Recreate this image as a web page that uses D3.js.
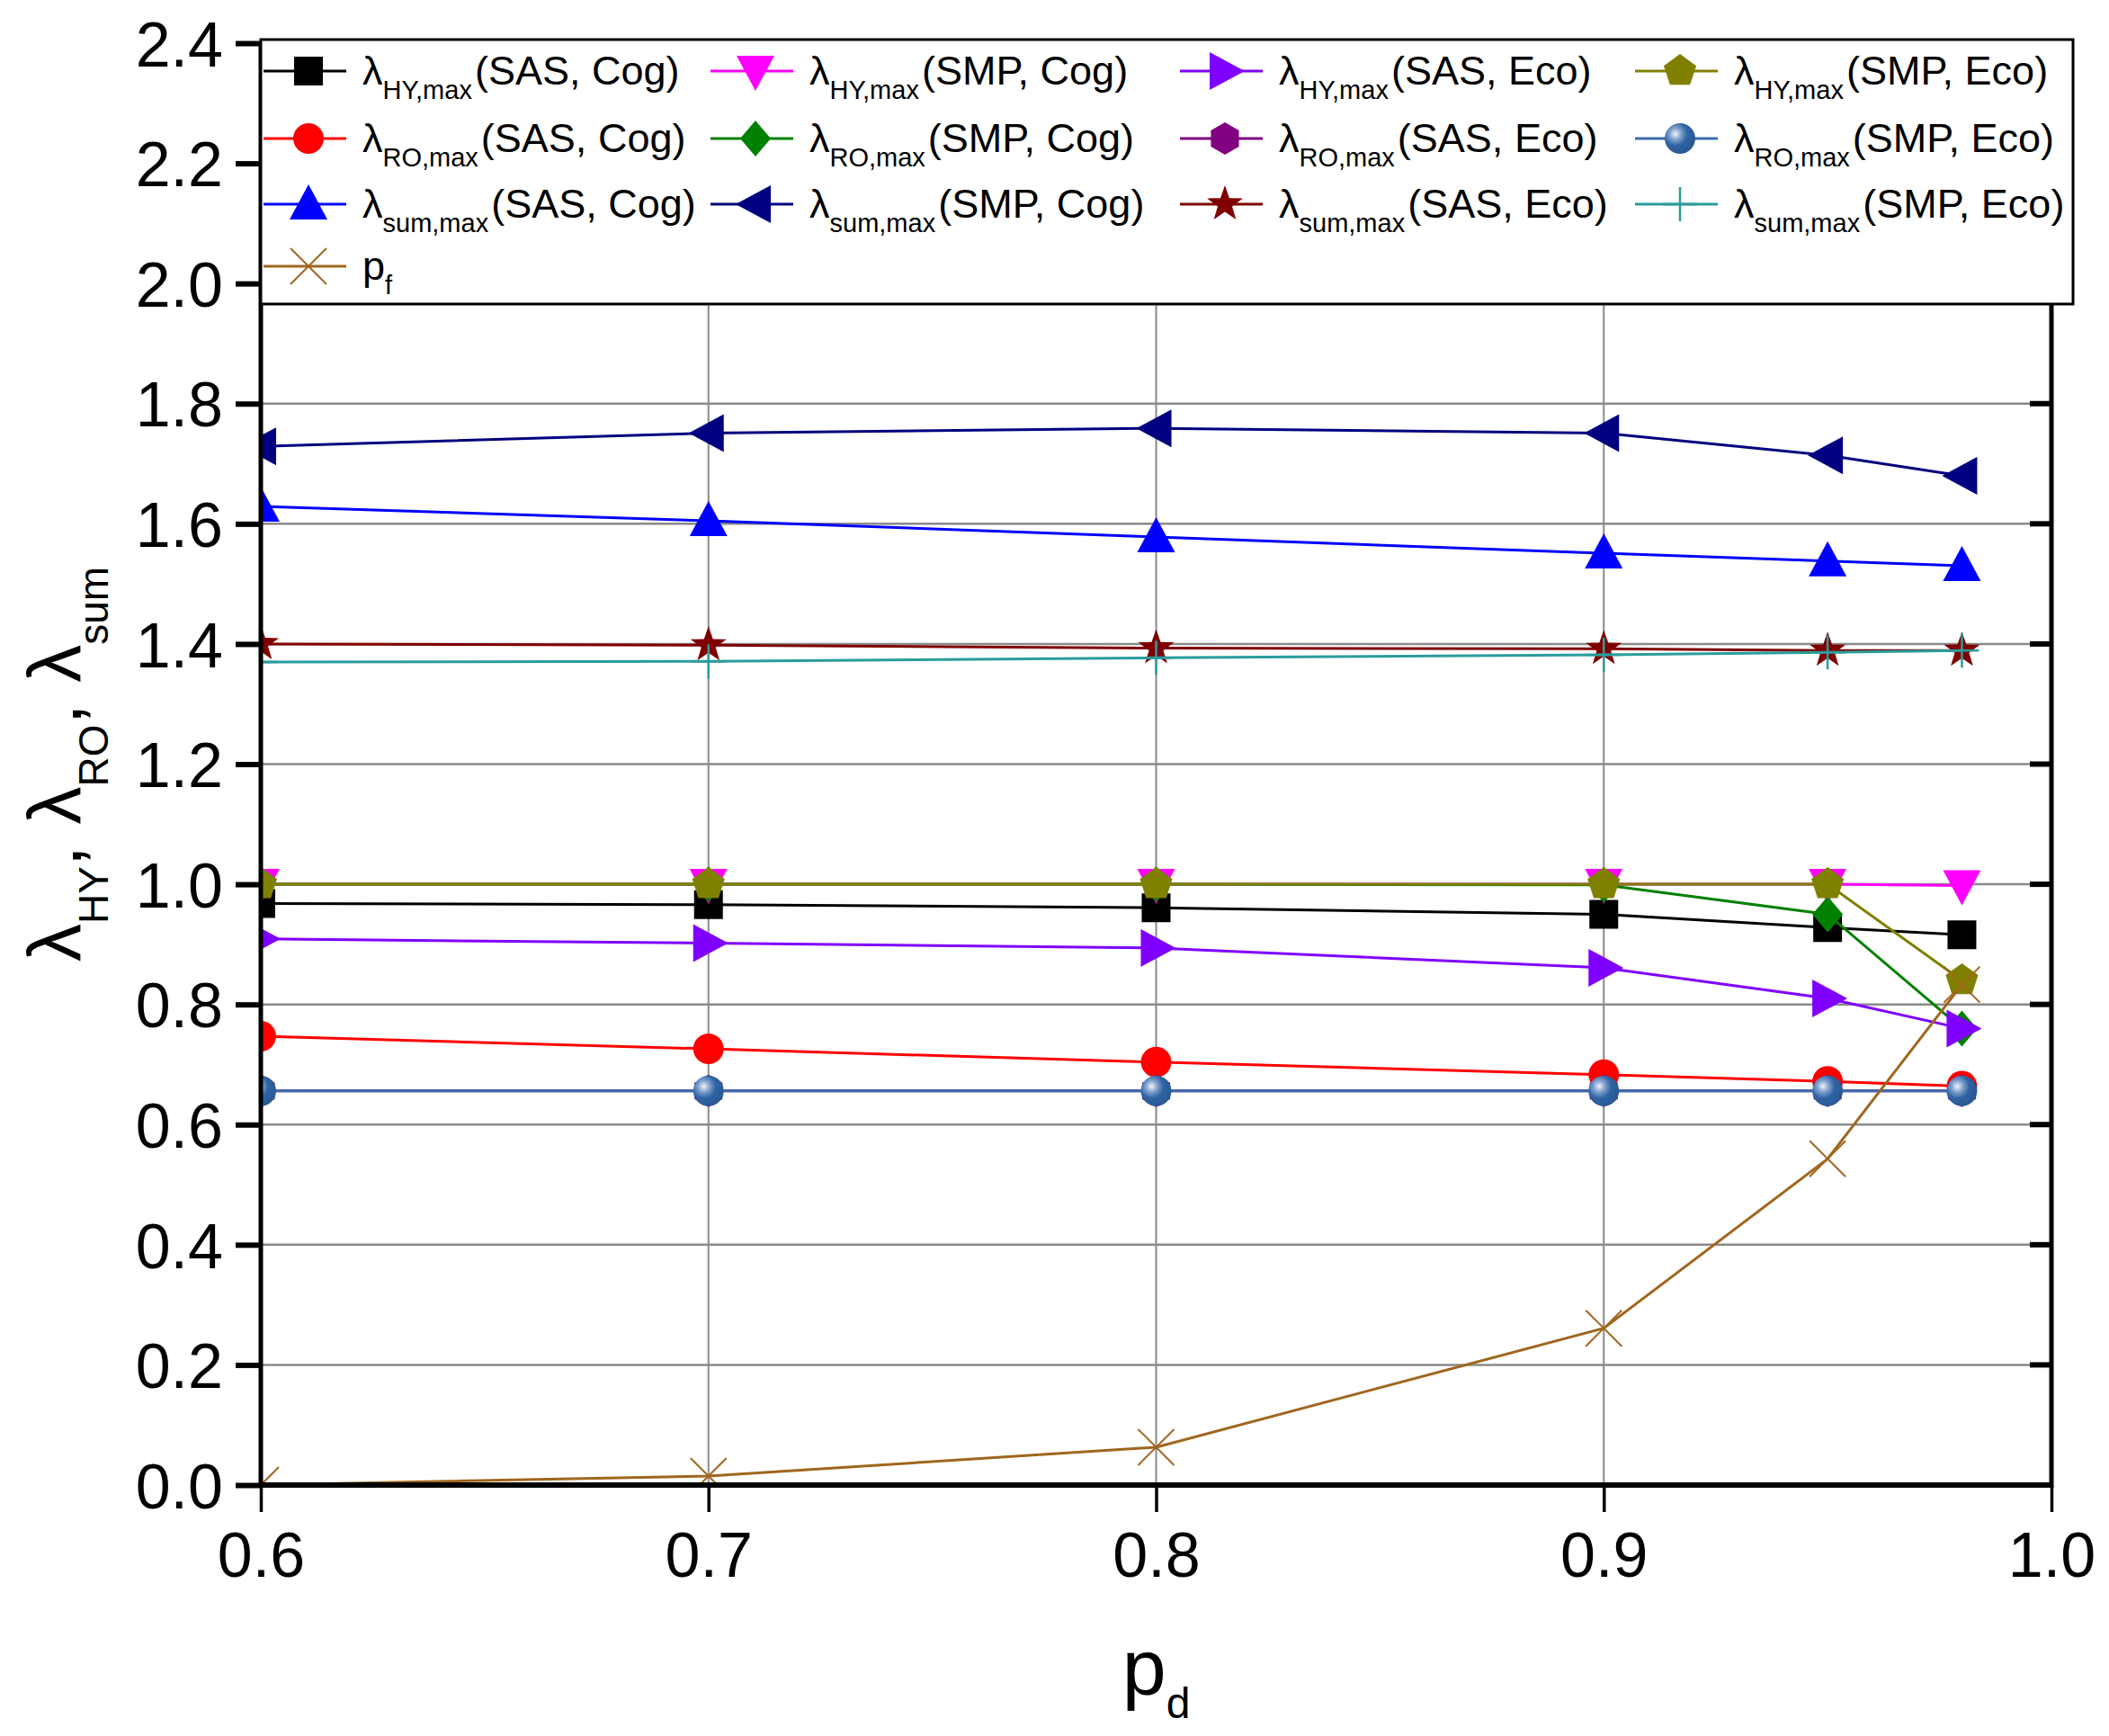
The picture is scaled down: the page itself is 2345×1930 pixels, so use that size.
<!DOCTYPE html>
<html>
<head>
<meta charset="utf-8">
<script src="https://cdn.jsdelivr.net/npm/d3@7"></script>
<style>
  html, body { margin: 0; padding: 0; background: #fff; }
  text { font-family: "Liberation Sans", Arial, sans-serif; fill: #000; }
</style>
</head>
<body>
<svg id="chart" width="2345" height="1930"></svg>
<script>
// x values (p_d)
var pd = [0.6, 0.7, 0.8, 0.9, 0.95, 0.98];

// series values
var hySasCog  = [0.968, 0.966, 0.961, 0.950, 0.928, 0.916];
var hySmpCog  = [1.000, 1.000, 1.000, 1.000, 1.000, 0.998];
var hySasEco  = [0.909, 0.902, 0.894, 0.861, 0.810, 0.760];
var hySmpEco  = [1.000, 1.000, 1.000, 1.000, 1.000, 0.840];
var roSasCog  = [0.747, 0.726, 0.704, 0.683, 0.672, 0.664];
var roSmpCog  = [1.000, 1.000, 1.000, 0.999, 0.950, 0.760];
var roSasEco  = [0.656, 0.656, 0.656, 0.656, 0.656, 0.656];
var roSmpEco  = [0.656, 0.656, 0.656, 0.656, 0.656, 0.656];
var sumSasCog = [1.629, 1.605, 1.578, 1.551, 1.538, 1.530];
var sumSmpCog = [1.729, 1.751, 1.759, 1.751, 1.714, 1.680];
var sumSasEco = [1.400, 1.398, 1.393, 1.392, 1.389, 1.389];
var sumSmpEco = [1.370, 1.371, 1.377, 1.382, 1.386, 1.389];
var pf        = [0.000, 0.015, 0.063, 0.261, 0.543, 0.833];

var xTicks = [0.6, 0.7, 0.8, 0.9, 1.0];
var yTicks = [0, 0.2, 0.4, 0.6, 0.8, 1.0, 1.2, 1.4, 1.6, 1.8, 2.0, 2.2, 2.4];

// legend entries in row order
var series = [
    {sub: "HY,max",  tag: "(SAS, Cog)", color: "#000000", marker: "square",   values: hySasCog},
    {sub: "HY,max",  tag: "(SMP, Cog)", color: "#ff00ff", marker: "down",     values: hySmpCog},
    {sub: "HY,max",  tag: "(SAS, Eco)", color: "#8000ff", marker: "right",    values: hySasEco},
    {sub: "HY,max",  tag: "(SMP, Eco)", color: "#808000", marker: "pentagon", values: hySmpEco},
    {sub: "RO,max",  tag: "(SAS, Cog)", color: "#ff0000", marker: "circle",   values: roSasCog},
    {sub: "RO,max",  tag: "(SMP, Cog)", color: "#008000", marker: "diamond",  values: roSmpCog},
    {sub: "RO,max",  tag: "(SAS, Eco)", color: "#800080", marker: "hexagon",  values: roSasEco},
    {sub: "RO,max",  tag: "(SMP, Eco)", color: "#3a6cad", marker: "sphere",   values: roSmpEco},
    {sub: "sum,max", tag: "(SAS, Cog)", color: "#0000ff", marker: "up",       values: sumSasCog},
    {sub: "sum,max", tag: "(SMP, Cog)", color: "#000080", marker: "left",     values: sumSmpCog},
    {sub: "sum,max", tag: "(SAS, Eco)", color: "#800000", marker: "star",     values: sumSasEco},
    {sub: "sum,max", tag: "(SMP, Eco)", color: "#2b9c9c", marker: "plus",     values: sumSmpEco},
    {sub: "f", tag: "", color: "#a0661e", marker: "x", values: pf, letter: "p"}
];
// drawing order (later on top)
var drawOrder = [0, 4, 8, 1, 5, 9, 2, 6, 10, 3, 7, 11, 12];

var pL = 290, pR = 2281, pT = 48, pB = 1651;

var x = d3.scaleLinear().domain([0.6, 1.0]).range([pL, pR]);
var y = d3.scaleLinear().domain([0, 2.4]).range([pB, pT]);

var svg = d3.select("#chart");

var defs = svg.append("defs");
defs.append("clipPath").attr("id", "plotclip")
    .append("rect").attr("x", pL).attr("y", pT)
    .attr("width", pR - pL).attr("height", pB - pT);
var grad = defs.append("radialGradient").attr("id", "sphere")
    .attr("cx", "35%").attr("cy", "35%").attr("r", "65%");
grad.append("stop").attr("offset", "0%").attr("stop-color", "#eef3fa");
grad.append("stop").attr("offset", "30%").attr("stop-color", "#7fa0cc");
grad.append("stop").attr("offset", "60%").attr("stop-color", "#2f63a3");
grad.append("stop").attr("offset", "100%").attr("stop-color", "#2a5a96");

function poly(pts) {
    return "M" + pts.map(function(p){ return p[0].toFixed(2) + "," + p[1].toFixed(2); }).join("L") + "Z";
}
function ngon(n, r) {
    var pts = [];
    for (var i = 0; i < n; i++) {
        var a = -Math.PI / 2 + i * 2 * Math.PI / n;
        pts.push([r * Math.cos(a), r * Math.sin(a)]);
    }
    return poly(pts);
}
function star(r) {
    var pts = [];
    for (var i = 0; i < 10; i++) {
        var a = -Math.PI / 2 + i * Math.PI / 5;
        var rr = i % 2 == 0 ? r : r * 0.4;
        pts.push([rr * Math.cos(a), rr * Math.sin(a)]);
    }
    return poly(pts);
}

function drawMarker(g, type, color, cx, cy) {
    var m = g.append("g").attr("transform", "translate(" + cx + "," + cy + ")");
    var tri = [[0, -22], [21, 17], [-21, 17]];
    if (type == "square") {
        m.append("path").attr("d", poly([[-16,-16],[16,-16],[16,16],[-16,16]])).attr("fill", color);
    } else if (type == "circle") {
        m.append("path").attr("d", d3.symbol(d3.symbolCircle, Math.PI * 17 * 17)()).attr("fill", color);
    } else if (type == "sphere") {
        m.append("path").attr("d", d3.symbol(d3.symbolCircle, Math.PI * 17 * 17)()).attr("fill", "url(#sphere)");
    } else if (type == "up" || type == "down" || type == "left" || type == "right") {
        var rot = {up: 0, down: 180, left: -90, right: 90}[type];
        m.append("path").attr("d", poly(tri)).attr("transform", "rotate(" + rot + ")").attr("fill", color);
    } else if (type == "diamond") {
        m.append("path").attr("d", poly([[0,-20],[17,0],[0,20],[-17,0]])).attr("fill", color);
    } else if (type == "pentagon") {
        m.append("path").attr("d", ngon(5, 19)).attr("fill", color);
    } else if (type == "hexagon") {
        m.append("path").attr("d", ngon(6, 18)).attr("fill", color);
    } else if (type == "star") {
        m.append("path").attr("d", star(21)).attr("fill", color);
    } else if (type == "plus") {
        m.append("path").attr("d", "M-19,0H19M0,-19V19").attr("stroke", color).attr("stroke-width", 2.5).attr("fill", "none");
    } else if (type == "x") {
        m.append("path").attr("d", "M-20,-20L20,20M20,-20L-20,20").attr("stroke", color).attr("stroke-width", 2).attr("fill", "none");
    }
}

// grid lines
var grid = svg.append("g");
grid.selectAll("line.h").data(yTicks.filter(function(d){ return d > 0 && d < 2.4; }))
    .enter().append("line")
    .attr("x1", pL).attr("x2", pR)
    .attr("y1", function(d){ return y(d); }).attr("y2", function(d){ return y(d); })
    .attr("stroke", "#8a8a8a").attr("stroke-width", 2.5);
grid.selectAll("line.v").data(xTicks.filter(function(d){ return d > 0.6 && d < 1.0; }))
    .enter().append("line")
    .attr("x1", function(d){ return x(d); }).attr("x2", function(d){ return x(d); })
    .attr("y1", pT).attr("y2", pB)
    .attr("stroke", "#8a8a8a").attr("stroke-width", 2);

// data
var plot = svg.append("g").attr("clip-path", "url(#plotclip)");
var line = d3.line()
    .x(function(d, i){ return x(pd[i]); })
    .y(function(d){ return y(d); });

drawOrder.forEach(function(k) {
    var s = series[k];
    plot.append("path")
        .attr("d", line(s.values))
        .attr("fill", "none")
        .attr("stroke", s.color)
        .attr("stroke-width", 3);
    s.values.forEach(function(v, i) {
        drawMarker(plot, s.marker, s.color, x(pd[i]), y(v));
    });
});

// axes
var yAxis = d3.axisLeft(y).tickValues(yTicks).tickSize(28).tickPadding(14)
    .tickFormat(d3.format(".1f"));
var gy = svg.append("g").attr("transform", "translate(" + pL + ",0)").call(yAxis);
gy.select(".domain").remove();
gy.selectAll(".tick line").attr("stroke", "#000").attr("stroke-width", 6);
gy.selectAll(".tick text").attr("font-size", 70).attr("dy", "0.36em")
    .style("font-family", "'Liberation Sans', Arial, sans-serif");

var xAxis = d3.axisBottom(x).tickValues(xTicks).tickSize(30).tickPadding(22)
    .tickFormat(d3.format(".1f"));
var gx = svg.append("g").attr("transform", "translate(0," + pB + ")").call(xAxis);
gx.select(".domain").remove();
gx.selectAll(".tick line").attr("stroke", "#000").attr("stroke-width", 3.5);
gx.selectAll(".tick text").attr("font-size", 70).attr("dy", "0.72em")
    .style("font-family", "'Liberation Sans', Arial, sans-serif");

// right-side inward ticks
svg.append("g").selectAll("line").data(yTicks).enter().append("line")
    .attr("x1", pR - 24).attr("x2", pR)
    .attr("y1", function(d){ return y(d); }).attr("y2", function(d){ return y(d); })
    .attr("stroke", "#000").attr("stroke-width", 6);

// frame
svg.append("line").attr("x1", pL).attr("x2", pL).attr("y1", pT).attr("y2", pB + 3)
    .attr("stroke", "#000").attr("stroke-width", 5);
svg.append("line").attr("x1", pR).attr("x2", pR).attr("y1", pT).attr("y2", pB + 3)
    .attr("stroke", "#000").attr("stroke-width", 5);
svg.append("line").attr("x1", pL - 2).attr("x2", pR + 2).attr("y1", pB).attr("y2", pB)
    .attr("stroke", "#000").attr("stroke-width", 6);
svg.append("line").attr("x1", pL - 2).attr("x2", pR + 2).attr("y1", pT).attr("y2", pT)
    .attr("stroke", "#000").attr("stroke-width", 4);

// axis titles
var xt = svg.append("text").attr("x", (pL + pR) / 2).attr("y", 1884)
    .attr("text-anchor", "middle").attr("font-size", 88);
xt.append("tspan").text("p");
xt.append("tspan").attr("font-size", 48).attr("dy", 26).text("d");

var yt = svg.append("text").attr("transform", "translate(90," + ((pT + pB) / 2) + ") rotate(-90)")
    .attr("text-anchor", "middle").attr("font-size", 84);
[["HY", true], ["RO", true], ["sum", false]].forEach(function(p) {
    yt.append("tspan").attr("dy", 0).text("\u03bb");
    yt.append("tspan").attr("font-size", 46).attr("dy", 30).text(p[0]);
    if (p[1]) yt.append("tspan").attr("dy", -30).text(", ");
});

// legend
var legend = svg.append("g");
legend.append("rect").attr("x", 290).attr("y", 44).attr("width", 2015).attr("height", 294)
    .attr("fill", "#fff").attr("stroke", "#000").attr("stroke-width", 3);
var colX = [293, 790, 1312, 1818];
var rowY = [79, 154, 227, 296];
series.forEach(function(s, i) {
    var c = i % 4, r = Math.floor(i / 4);
    var x0 = colX[c], yy = rowY[r];
    var g = legend.append("g");
    g.append("line").attr("x1", x0).attr("x2", x0 + 92).attr("y1", yy).attr("y2", yy)
        .attr("stroke", s.color).attr("stroke-width", 3);
    drawMarker(g, s.marker, s.color, x0 + 50, yy);
    var t = g.append("text").attr("x", x0 + 110).attr("y", yy + 15).attr("font-size", 45);
    t.append("tspan").text(s.letter || "\u03bb");
    t.append("tspan").attr("font-size", 29).attr("dy", 16).text(s.sub);
    if (s.tag) t.append("tspan").attr("dy", -16).attr("dx", 3).text(s.tag);
});
</script>
</body>
</html>
